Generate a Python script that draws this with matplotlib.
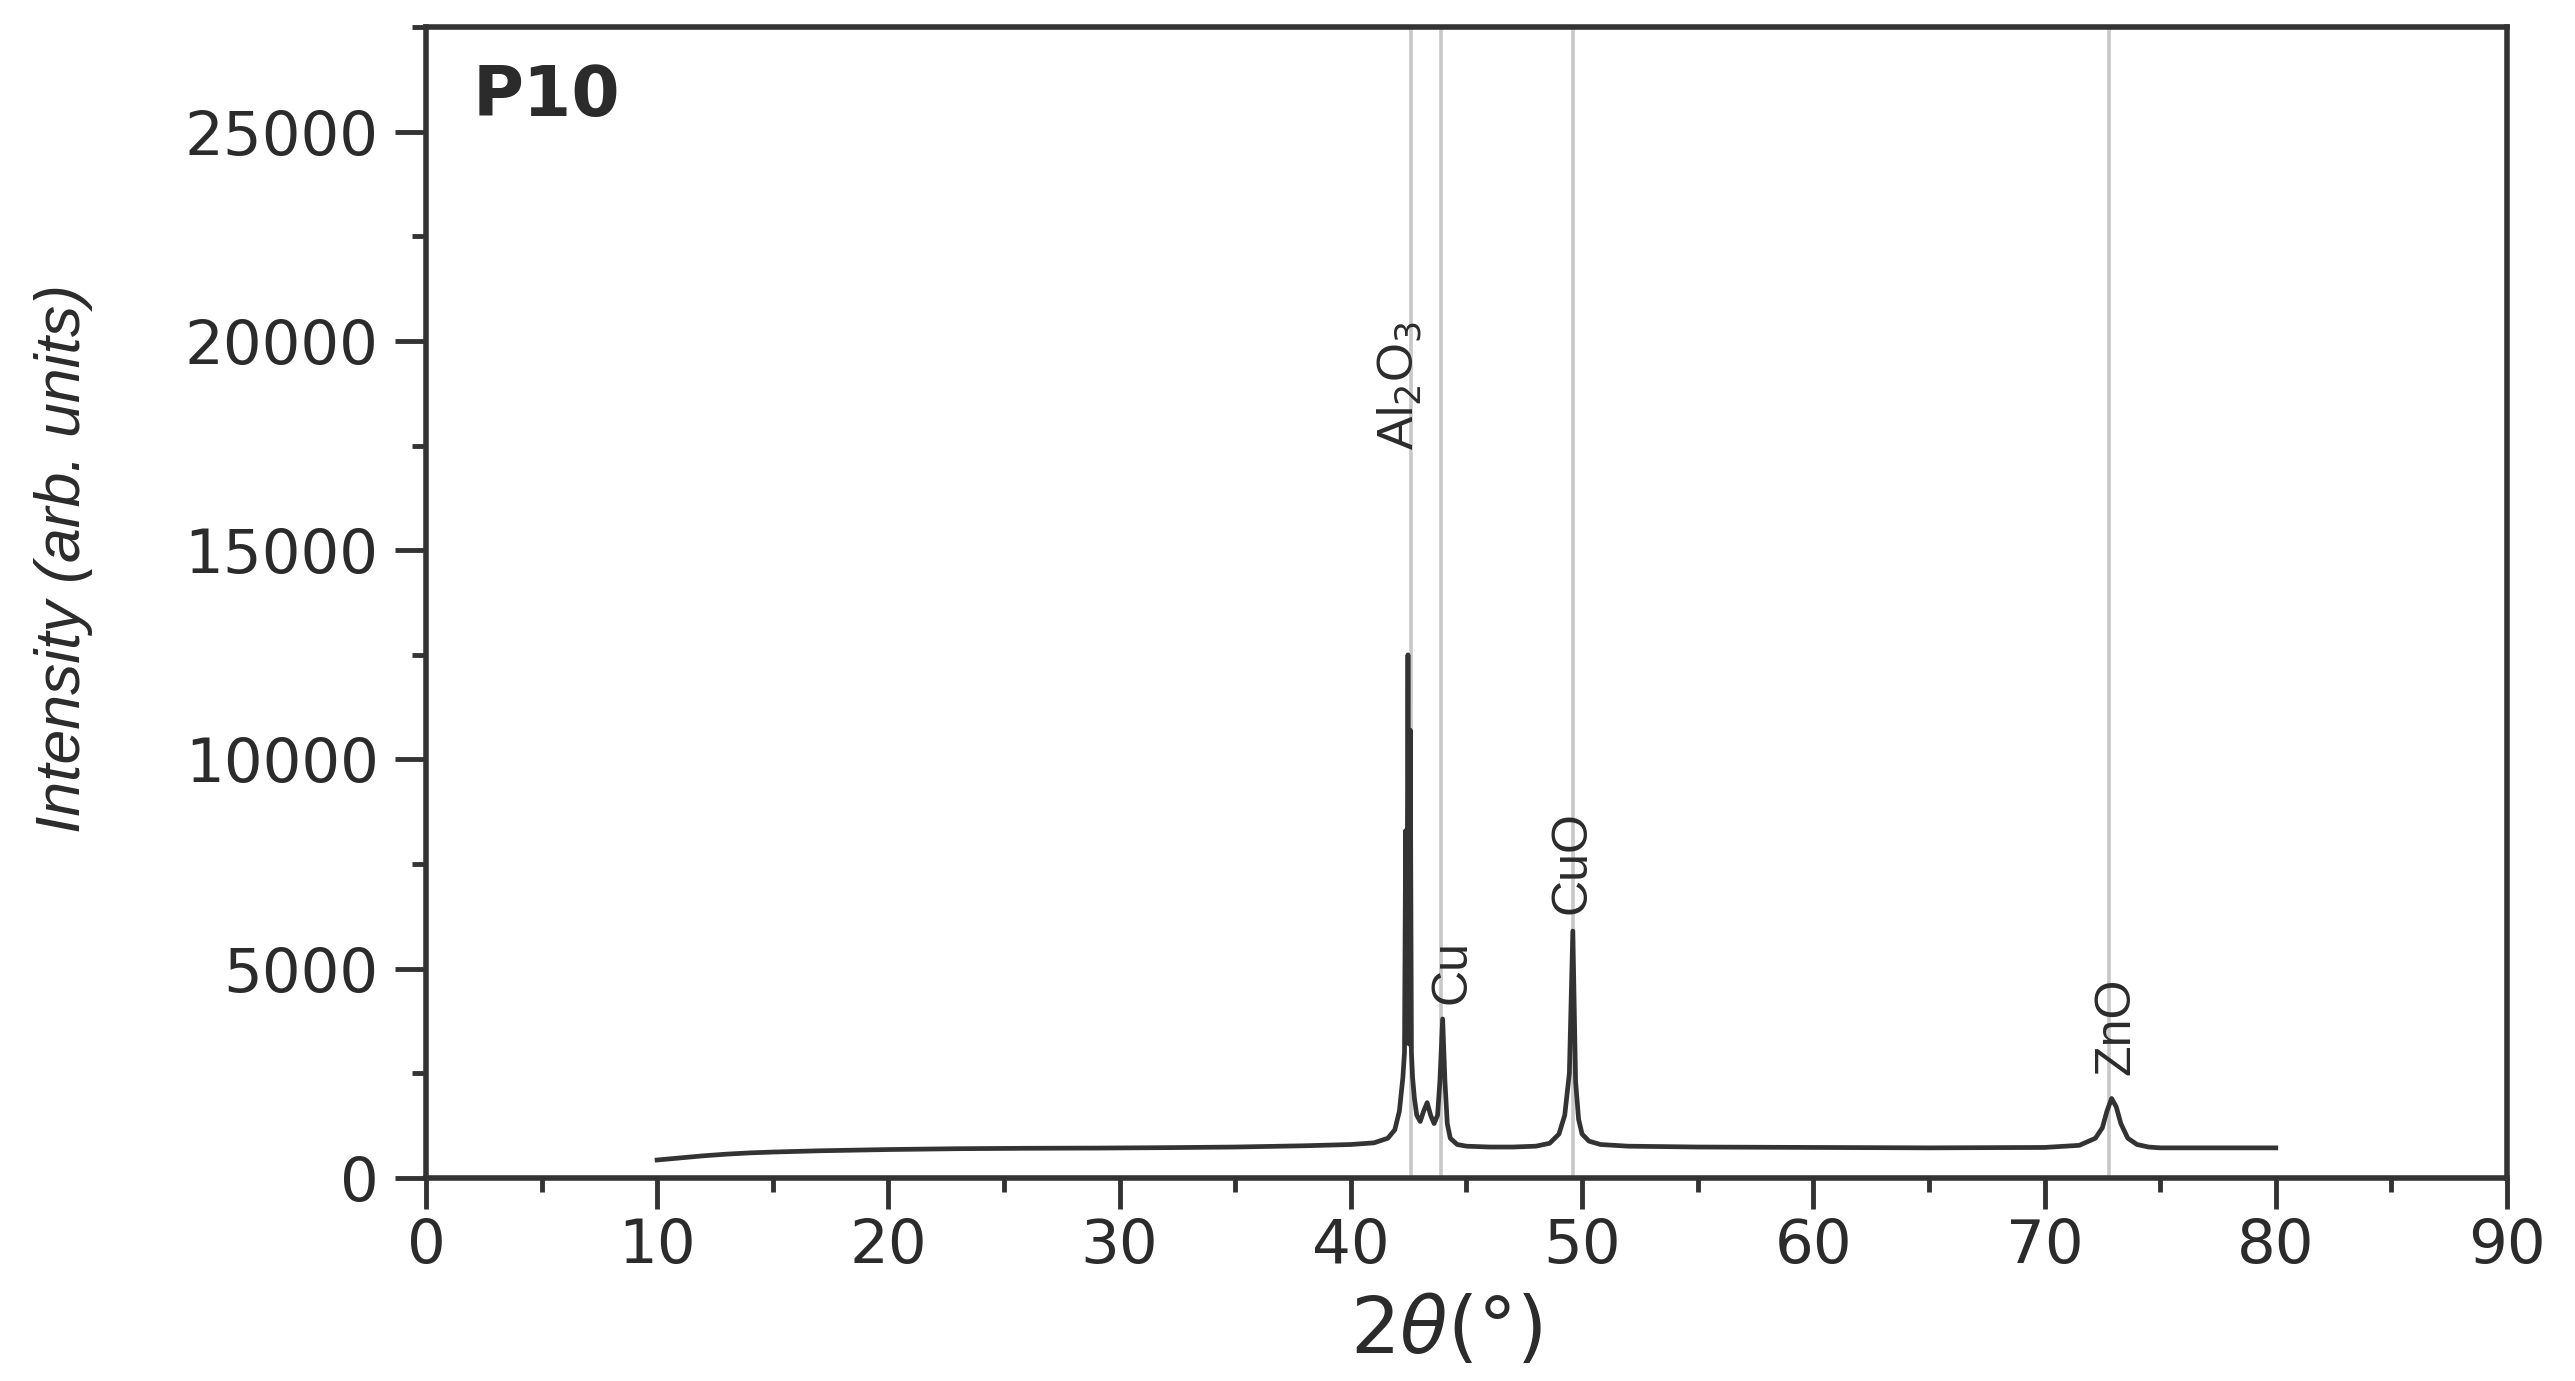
import numpy as np
import matplotlib.pyplot as plt
from matplotlib.ticker import MultipleLocator

# XRD pattern of sample P10
two_theta = [10, 11, 12, 13, 14, 15, 17, 20, 23, 26, 29, 32, 35, 38, 40, 41,
             41.6, 41.9, 42.1, 42.25, 42.32, 42.37, 42.42, 42.47, 42.52, 42.57,
             42.62, 42.67, 42.75, 42.85, 43.0, 43.15, 43.3, 43.45, 43.6, 43.75,
             43.85, 43.97, 44.07, 44.17, 44.3, 44.6, 45, 46, 47, 48, 48.6, 49.0,
             49.25, 49.45, 49.6, 49.72, 49.85, 50.0, 50.3, 50.8, 52, 55, 60, 65,
             70, 71.5, 72.2, 72.5, 72.7, 72.9, 73.1, 73.3, 73.6, 74.0, 74.5, 75,
             77, 80]
intensity = [430, 480, 530, 570, 600, 620, 650, 680, 700, 710, 715, 725, 740, 770,
             800, 840, 950, 1150, 1600, 2400, 3000, 8300, 3600, 12500, 3200, 10700,
             3000, 2400, 1900, 1500, 1350, 1600, 1800, 1500, 1300, 1500, 2300, 3800,
             2300, 1300, 950, 800, 760, 740, 740, 760, 830, 1050, 1500, 2500, 5900,
             2300, 1400, 1050, 880, 800, 760, 740, 730, 720, 730, 780, 950, 1200,
             1600, 1900, 1700, 1300, 950, 800, 740, 720, 720, 720]

ref_lines = [42.6, 43.9, 49.6, 72.8]
peak_labels = ['Al$_2$O$_3$', 'Cu', 'CuO', 'ZnO']
label_x = [42.1, 44.4, 49.6, 73.1]
label_y = [17400, 4150, 6300, 2450]

txt = '#2b2b2b'

fig = plt.figure(figsize=(25.75, 13.81), dpi=100)
ax = fig.add_axes([0.1654, 0.147, 0.9736 - 0.1654, 0.9804 - 0.147])

for xr in ref_lines:
    ax.axvline(xr, color='#c8c8c8', lw=2.6, zorder=1)

ax.plot(two_theta, intensity, color='#333333', lw=3.4, zorder=3)

for lab, xl, yl in zip(peak_labels, label_x, label_y):
    ax.text(xl, yl, lab, rotation=90, ha='center', va='bottom', fontsize=36,
            family='Liberation Sans', color=txt, zorder=4)

ax.text(0.0225, 0.94, 'P10', transform=ax.transAxes, fontsize=50,
        fontweight='bold', color=txt, ha='left', va='center')

ax.set_xlim(0, 90)
ax.set_ylim(0, 27500)
ax.xaxis.set_major_locator(MultipleLocator(10))
ax.xaxis.set_minor_locator(MultipleLocator(5))
ax.yaxis.set_major_locator(MultipleLocator(5000))
ax.yaxis.set_minor_locator(MultipleLocator(2500))

ax.tick_params(which='major', direction='out', length=22, width=3.5,
               color='#333333', labelsize=44, labelcolor=txt)
ax.tick_params(axis='x', which='major', pad=6)
ax.tick_params(axis='y', which='major', pad=12)
ax.tick_params(which='minor', direction='out', length=10, width=3.5, color='#333333')
for sp in ax.spines.values():
    sp.set_linewidth(4)
    sp.set_color('#333333')

ax.set_xlabel(r'2$\theta$(°)', fontsize=56, color=txt)
ax.xaxis.set_label_coords(0.49, -0.10)
ax.set_ylabel('Intensity (arb. units)', fontsize=45, style='italic',
              family='Liberation Sans', color=txt)
ax.yaxis.set_label_coords(-0.16, 0.538)

plt.savefig('out.png', dpi=100)
